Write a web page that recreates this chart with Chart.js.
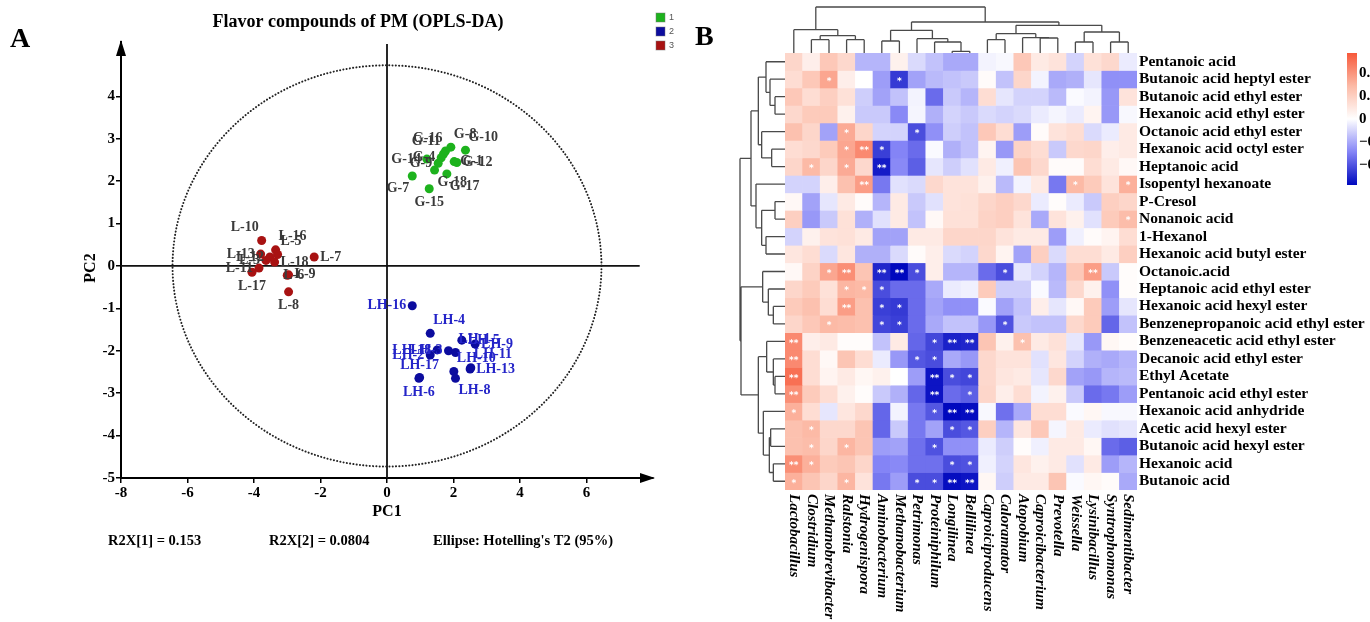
<!DOCTYPE html>
<html>
<head>
<meta charset="utf-8">
<script src="https://cdn.jsdelivr.net/npm/chart.js@4.4.1/dist/chart.umd.min.js"></script>
<style>
  html, body { margin: 0; padding: 0; background: #fff; }
  #wrap { position: relative; width: 1370px; height: 622px; overflow: hidden; }
  #scoreCanvas { position: absolute; left: 0; top: 0; }
  #heatCanvas { position: absolute; left: 690px; top: 0; }
</style>
</head>
<body>
<div id="wrap">
  <canvas id="scoreCanvas" width="700" height="622"></canvas>
  <canvas id="heatCanvas" width="680" height="622"></canvas>
</div>
<script>
// ---------- panel A : OPLS-DA score plot ----------
const gPC1 = [1.92, 2.36, 1.76, 1.70, 1.20, 1.54, 1.63, 2.02, 2.10, 1.80, 1.43, 0.76, 1.27];
const gPC2 = [2.80, 2.73, 2.71, 2.64, 2.52, 2.42, 2.55, 2.46, 2.44, 2.17, 2.26, 2.12, 1.82];
const gNames = ['G-8', 'G-10', 'G-16', 'G-11', 'G-14', 'G-9', 'G-4', 'G-1', 'G-12', 'G-17', 'G-18', 'G-7', 'G-15'];
const gSpots = ['NE', 'NE', 'NW', 'NW', 'W', 'W', 'W', 'E', 'E', 'SE', 'SE', 'SW', 'S'];

const lhPC1 = [0.76, 1.30, 2.25, 2.65, 1.51, 1.85, 1.30, 2.06, 2.50, 2.52, 2.01, 2.06, 0.96, 0.98];
const lhPC2 = [-0.94, -1.59, -1.75, -1.84, -1.98, -2.00, -2.10, -2.04, -2.43, -2.40, -2.49, -2.65, -2.65, -2.63];
const lhNames = ['LH-16', 'LH-4', 'LH-5', 'LH-9', 'LH-18', 'LH-3', 'LH-2', 'LH-1', 'LH-13', 'LH-11', 'LH-10', 'LH-8', 'LH-6', 'LH-17'];
const lhSpots = ['W', 'NE', 'E', 'E', 'W', 'W', 'W', 'NE', 'E', 'NE', 'NE', 'SE', 'S', 'N'];

const lPC1 = [-3.77, -3.35, -3.29, -3.80, -3.64, -3.52, -3.38, -3.85, -4.06, -2.19, -2.96, -3.00, -2.96];
const lPC2 = [0.60, 0.38, 0.27, 0.28, 0.13, 0.21, 0.09, -0.05, -0.15, 0.21, -0.21, -0.22, -0.61];
const lNames = ['L-10', 'L-16', 'L-5', 'L-13', 'L-3', 'L-12', 'L-18', 'L-11', 'L-17', 'L-7', 'L-9', 'L-6', 'L-8'];
const lSpots = ['NW', 'NE', 'NE', 'W', 'W', 'W', 'E', 'W', 'S', 'E', 'E', 'C', 'S'];

const ellipseRadii = [6.45, 4.73];   // Hotelling's T2 (95%) in PC1 / PC2 units
const r2x = ['R2X[1] = 0.153', 'R2X[2] = 0.0804', "Ellipse: Hotelling's T2 (95%)"];

// ---------- panel B : correlation heatmap ----------
const colNames = ['Lactobacillus', 'Clostridium', 'Methanobrevibacter', 'Ralstonia', 'Hydrogenispora',
  'Aminobacterium', 'Methanobacterium', 'Petrimonas', 'Proteiniphilum', 'Longilinea', 'Bellilinea',
  'Caproiciproducens', 'Caloramator', 'Atopobium', 'Caproicibacterium', 'Prevotella', 'Weissella',
  'Lysinibacillus', 'Syntrophomonas', 'Sedimentibacter'];

const rowNames = ['Pentanoic acid', 'Butanoic acid heptyl ester', 'Butanoic acid ethyl ester',
  'Hexanoic acid ethyl ester', 'Octanoic acid ethyl ester', 'Hexanoic acid octyl ester', 'Heptanoic acid',
  'Isopentyl hexanoate', 'P-Cresol', 'Nonanoic acid', '1-Hexanol', 'Hexanoic acid butyl ester',
  'Octanoic.acid', 'Heptanoic acid ethyl ester', 'Hexanoic acid hexyl ester',
  'Benzenepropanoic acid ethyl ester', 'Benzeneacetic acid ethyl ester', 'Decanoic acid ethyl ester',
  'Ethyl Acetate', 'Pentanoic acid ethyl ester', 'Hexanoic acid anhydride', 'Acetic acid hexyl ester',
  'Butanoic acid hexyl ester', 'Hexanoic acid', 'Butanoic acid'];

const corr = [
  [0.3, 0.12, 0.4, 0.28, -0.3, -0.3, 0.1, -0.15, -0.25, -0.35, -0.35, -0.05, -0.03, 0.4, 0.15, 0.2, -0.18, 0.22, 0.28, -0.08],
  [0.25, 0.4, 0.6, 0.12, 0.0, -0.4, -0.8, -0.38, -0.28, -0.25, -0.22, 0.03, -0.25, 0.3, -0.05, -0.35, -0.32, -0.1, -0.45, -0.45],
  [0.4, 0.25, 0.35, 0.22, -0.2, -0.38, -0.25, -0.05, -0.6, -0.22, -0.3, 0.25, -0.1, -0.18, -0.18, -0.28, -0.02, -0.05, -0.42, 0.2],
  [0.28, 0.38, 0.38, 0.1, -0.22, -0.22, -0.48, -0.04, -0.32, -0.18, -0.22, -0.15, -0.18, -0.15, -0.08, -0.04, -0.08, 0.08, -0.42, -0.03],
  [0.45, 0.3, -0.38, 0.58, 0.3, -0.18, -0.18, -0.72, -0.45, -0.2, -0.25, 0.4, 0.25, -0.4, 0.03, 0.2, 0.25, -0.15, -0.08, 0.15],
  [0.25, 0.28, 0.38, 0.6, 0.75, -0.78, -0.5, -0.6, -0.02, -0.32, -0.25, 0.08, -0.42, 0.32, 0.25, -0.22, 0.28, 0.3, 0.12, 0.15],
  [0.3, 0.5, 0.3, 0.58, 0.28, -0.92, -0.48, -0.65, -0.1, -0.2, -0.12, 0.15, -0.06, 0.42, 0.28, 0.03, 0.03, 0.25, 0.15, 0.05],
  [-0.18, -0.18, 0.12, 0.45, 0.65, -0.55, -0.12, -0.15, 0.28, 0.2, 0.2, 0.1, -0.28, -0.05, 0.15, -0.55, 0.5, 0.38, 0.2, 0.55],
  [0.05, -0.38, -0.1, 0.15, 0.03, -0.3, 0.15, -0.22, -0.12, 0.2, 0.22, 0.3, 0.35, 0.28, -0.08, 0.02, -0.08, -0.22, 0.35, 0.3],
  [0.35, -0.42, -0.22, 0.22, -0.32, -0.12, 0.15, -0.25, 0.05, 0.22, 0.22, 0.32, 0.35, 0.2, -0.35, 0.2, 0.1, -0.12, 0.38, 0.48],
  [-0.18, 0.1, 0.2, 0.22, 0.15, -0.38, -0.38, 0.15, 0.15, 0.3, 0.3, 0.3, 0.2, 0.15, 0.15, -0.4, -0.06, 0.03, 0.08, 0.25],
  [0.18, 0.25, -0.15, 0.18, -0.32, -0.32, -0.15, 0.03, 0.12, -0.15, -0.18, 0.28, 0.08, -0.38, 0.35, -0.15, 0.25, 0.25, 0.15, 0.35],
  [0.05, 0.32, 0.6, 0.72, 0.42, -0.88, -1.0, -0.72, 0.12, -0.3, -0.3, -0.6, -0.72, -0.1, -0.18, -0.3, 0.4, 0.65, -0.22, 0.02],
  [0.3, 0.38, 0.22, 0.52, 0.5, -0.72, -0.6, -0.6, -0.35, -0.08, -0.06, 0.38, -0.2, -0.2, -0.02, -0.28, 0.28, 0.1, -0.45, 0.02],
  [0.38, 0.45, 0.25, 0.65, 0.45, -0.78, -0.8, -0.6, -0.38, -0.45, -0.45, -0.02, -0.38, -0.25, 0.12, -0.1, 0.05, 0.38, -0.4, -0.1],
  [0.3, 0.4, 0.5, 0.48, 0.45, -0.75, -0.78, -0.6, -0.35, -0.25, -0.25, -0.42, -0.7, -0.22, -0.25, -0.25, 0.28, 0.38, -0.62, -0.25],
  [0.75, 0.12, 0.15, 0.02, 0.02, -0.25, 0.15, -0.62, -0.75, -0.9, -0.88, 0.42, 0.1, 0.45, 0.15, 0.22, -0.1, -0.42, 0.06, 0.02],
  [0.75, 0.25, 0.05, 0.42, 0.25, -0.08, -0.42, -0.68, -0.72, -0.35, -0.42, 0.28, 0.2, 0.2, -0.12, 0.18, -0.18, -0.32, -0.35, -0.3],
  [0.88, 0.25, 0.08, 0.15, 0.06, 0.1, 0.0, -0.4, -0.95, -0.72, -0.75, 0.28, 0.18, 0.15, -0.1, 0.28, -0.38, -0.42, -0.3, -0.28],
  [0.72, 0.38, 0.25, 0.1, 0.02, -0.22, -0.32, -0.62, -0.95, -0.6, -0.65, 0.3, 0.12, 0.25, -0.05, 0.1, -0.22, -0.6, -0.55, -0.4],
  [0.55, 0.25, -0.1, 0.18, 0.28, -0.62, -0.05, -0.55, -0.68, -1.0, -0.98, -0.03, -0.58, -0.35, 0.25, 0.25, -0.02, 0.06, -0.03, -0.03],
  [0.45, 0.5, 0.28, 0.28, 0.42, -0.62, -0.22, -0.55, -0.38, -0.72, -0.68, 0.35, -0.3, 0.18, 0.4, -0.04, 0.15, -0.08, -0.12, -0.1],
  [0.45, 0.48, 0.3, 0.52, 0.42, -0.4, -0.38, -0.58, -0.7, -0.45, -0.45, -0.08, -0.2, 0.02, -0.06, 0.15, 0.15, 0.06, -0.6, -0.65],
  [0.72, 0.55, 0.38, 0.42, 0.3, -0.5, -0.48, -0.58, -0.58, -0.72, -0.7, -0.06, -0.18, 0.18, 0.1, 0.15, -0.12, 0.15, -0.4, -0.3],
  [0.55, 0.42, 0.3, 0.52, 0.2, -0.55, -0.4, -0.72, -0.72, -0.98, -0.95, 0.06, -0.2, 0.15, 0.15, 0.42, -0.02, 0.06, 0.03, -0.35]
];

// significance per cell: '.' none, '1' = *, '2' = **
const stars = [
  '....................', '..1...1.............', '....................', '....................',
  '...1...1............', '...121..............', '.1.1.2..............', '....2...........1..1',
  '....................', '...................1', '....................', '....................',
  '..12.221....1....2..', '...111..............', '...2.11.............', '..1..11.....1.......',
  '2.......122..1......', '2......11...........', '2.......211.........', '2.......2.1.........',
  '1.......122.........', '.1.......11.........', '.1.1....1...........', '21.......11.........',
  '1..1...1122.........'
];

// dendrograms: [left, right, height], leaves are column / row indexes
const colTree = [[0, [[1, 2, 40], [3, 4, 40], 52], 70],
  [[[5, 6, 36], [7, [8, [9, 10, 5], 33], 43], 68],
   [[[11, 12, 40], [13, [14, 15, 45], 46], 58], [[16, 17, 33], [18, 19, 33], 63], 83], 93], 138];
const rowTree = [[[[0, [1, [2, 3, 30], 45], 57], [4, [5, 6, 40], 70], 80],
  [7, [[8, 9, 30], [10, 11, 57], 70], 87], 102],
  [[12, [13, [14, 15, 35], 50], 67],
   [[16, [17, [18, 19, 30], 35], 55], [20, [[21, 22, 43], [23, 24, 35], 47], 65], 80], 132], 135];

const colorMax = 1;
const colorTicks = [0.7, 0.35, 0, -0.35, -0.7];

const SERIF = '"Liberation Serif", "Times New Roman", serif';

// ================= panel A =================
const groups = [
  { x: gPC1, y: gPC2, names: gNames, spots: gSpots, color: '#1db21d', text: '#3a3a3a' },
  { x: lhPC1, y: lhPC2, names: lhNames, spots: lhSpots, color: '#0c0c9e', text: '#2424c8' },
  { x: lPC1, y: lPC2, names: lNames, spots: lSpots, color: '#a81212', text: '#3a3a3a' }
];

function spotLabel(ctx, px, py, text, spot) {
  const m = {
    N: [0, -12, 'center'], S: [0, 14, 'center'], E: [6, 0, 'left'], W: [-6, 0, 'right'],
    NE: [3, -13, 'left'], NW: [-3, -13, 'right'], SE: [3, 12, 'left'], SW: [-3, 12, 'right'],
    C: [-4, 0, 'left']
  }[spot];
  ctx.textAlign = m[2];
  ctx.fillText(text, px + m[0], py + m[1]);
}

const scoreDecor = {
  id: 'scoreDecor',
  beforeDatasetsDraw(chart) {
    const { ctx, chartArea: a, scales: { x, y } } = chart;
    const cx = x.getPixelForValue(0), cy = y.getPixelForValue(0);
    ctx.save();
    // zero lines
    ctx.strokeStyle = '#111';
    ctx.lineWidth = 1.8;
    ctx.beginPath();
    ctx.moveTo(cx, a.bottom); ctx.lineTo(cx, a.top + 2);
    ctx.moveTo(a.left, cy); ctx.lineTo(x.getPixelForValue(7.6), cy);
    ctx.stroke();
    // Hotelling ellipse
    const rx = x.getPixelForValue(ellipseRadii[0]) - cx;
    const ry = cy - y.getPixelForValue(ellipseRadii[1]);
    ctx.setLineDash([0.1, 3.2]);
    ctx.lineCap = 'round';
    ctx.lineWidth = 2;
    ctx.strokeStyle = '#222';
    ctx.beginPath();
    ctx.ellipse(cx, cy, rx, ry, 0, 0, Math.PI * 2);
    ctx.stroke();
    ctx.restore();
  },
  afterDatasetsDraw(chart) {
    const ctx = chart.ctx;
    ctx.save();
    ctx.font = 'bold 14px ' + SERIF;
    ctx.textBaseline = 'middle';
    groups.forEach((g, d) => {
      const pts = chart.getDatasetMeta(d).data;
      ctx.fillStyle = g.text;
      pts.forEach((p, i) => spotLabel(ctx, p.x, p.y, g.names[i], g.spots[i]));
    });
    ctx.restore();
  },
  afterDraw(chart) {
    const { ctx, chartArea: a } = chart;
    ctx.save();
    ctx.fillStyle = '#000';
    // arrow heads
    ctx.beginPath();
    ctx.moveTo(a.right + 2, a.bottom); ctx.lineTo(a.right - 13, a.bottom - 5); ctx.lineTo(a.right - 13, a.bottom + 5);
    ctx.closePath(); ctx.fill();
    ctx.beginPath();
    ctx.moveTo(a.left, a.top - 2); ctx.lineTo(a.left - 5, a.top + 14); ctx.lineTo(a.left + 5, a.top + 14);
    ctx.closePath(); ctx.fill();
    // texts
    ctx.textBaseline = 'middle';
    ctx.textAlign = 'center';
    ctx.font = 'bold 18px ' + SERIF;
    ctx.fillText('Flavor compounds of PM (OPLS-DA)', 358, 22);
    ctx.font = 'bold 16px ' + SERIF;
    ctx.fillText('PC1', 387, 512);
    ctx.save();
    ctx.translate(91, 268);
    ctx.rotate(-Math.PI / 2);
    ctx.fillText('PC2', 0, 0);
    ctx.restore();
    ctx.textAlign = 'left';
    ctx.font = 'bold 14.5px ' + SERIF;
    [108, 269, 433].forEach((px, i) => ctx.fillText(r2x[i], px, 541));
    ctx.font = 'bold 28px ' + SERIF;
    ctx.fillText('A', 10, 40);
    // legend
    ctx.font = '9px "Liberation Sans", Arial, sans-serif';
    groups.forEach((g, i) => {
      const ty = 13 + i * 14;
      ctx.fillStyle = g.color;
      ctx.fillRect(656, ty, 9, 9);
      ctx.strokeStyle = 'rgba(120,120,120,0.6)';
      ctx.lineWidth = 0.8;
      ctx.strokeRect(656, ty, 9, 9);
      ctx.fillStyle = '#555';
      ctx.fillText(String(i + 1), 669, ty + 5);
    });
    ctx.restore();
  }
};

const tickFont = { family: SERIF, size: 15, weight: 'bold' };

new Chart(document.getElementById('scoreCanvas'), {
  type: 'scatter',
  data: {
    datasets: groups.map(g => ({
      data: g.x.map((v, i) => ({ x: v, y: g.y[i] })),
      backgroundColor: g.color,
      borderColor: g.color,
      pointRadius: 4.5,
      borderWidth: 0
    }))
  },
  options: {
    responsive: false,
    animation: false,
    events: [],
    layout: { padding: { left: 0, right: 47, top: 42, bottom: 0 } },
    plugins: { legend: { display: false }, tooltip: { enabled: false } },
    scales: {
      x: {
        type: 'linear', min: -8, max: 8,
        afterBuildTicks: s => { s.ticks = s.ticks.filter(t => t.value < 8); },
        afterFit: s => { s.height = 144; },
        ticks: { stepSize: 2, color: '#000', font: tickFont, padding: 1 },
        grid: { drawOnChartArea: false, drawTicks: true, tickLength: 5, color: '#000', lineWidth: 1.5 },
        border: { display: true, color: '#000', width: 2 }
      },
      y: {
        type: 'linear', min: -5, max: 5.28,
        afterBuildTicks: s => { s.ticks = s.ticks.filter(t => t.value <= 4); },
        afterFit: s => { s.width = 121; },
        ticks: { stepSize: 1, color: '#000', font: tickFont, padding: 1 },
        grid: { drawOnChartArea: false, drawTicks: true, tickLength: 5, color: '#000', lineWidth: 1.5 },
        border: { display: true, color: '#000', width: 2 }
      }
    }
  },
  plugins: [scoreDecor]
});

// ================= panel B =================
function heatColor(v) {
  const t = Math.max(-1, Math.min(1, v / colorMax));
  const stops = t >= 0
    ? [[255, 255, 255], [252, 186, 166], [247, 88, 58]]
    : [[255, 255, 255], [132, 132, 246], [0, 8, 190]];
  const a = Math.abs(t) * 2;
  const i = Math.min(1, Math.floor(a));
  const f = a - i;
  const c = stops[i].map((c0, k) => Math.round(c0 + (stops[i + 1][k] - c0) * f));
  return 'rgb(' + c.join(',') + ')';
}

function walkTree(node, leafAt, line) {
  if (typeof node === 'number') return { p: leafAt(node), h: 0 };
  const a = walkTree(node[0], leafAt, line);
  const b = walkTree(node[1], leafAt, line);
  const h = node[2];
  line(a.p, a.h, a.p, h);
  line(b.p, b.h, b.p, h);
  line(a.p, h, b.p, h);
  return { p: (a.p + b.p) / 2, h: h };
}

const heatDecor = {
  id: 'heatDecor',
  afterDraw(chart) {
    const { ctx, chartArea: a, scales: { x, y } } = chart;
    const unit = 1 / 3;
    ctx.save();
    // significance marks
    ctx.fillStyle = '#fff';
    ctx.font = 'bold 9px "DejaVu Sans", sans-serif';
    ctx.textAlign = 'center';
    ctx.textBaseline = 'middle';
    stars.forEach((row, r) => {
      for (let c = 0; c < row.length; c++) {
        if (row[c] === '.') continue;
        ctx.fillText(row[c] === '2' ? '**' : '*', x.getPixelForValue(c), y.getPixelForValue(r + 0.5) + 2);
      }
    });
    // column labels, reading downwards
    ctx.fillStyle = '#000';
    ctx.font = 'italic bold 15px ' + SERIF;
    ctx.textAlign = 'left';
    colNames.forEach((name, c) => {
      ctx.save();
      ctx.translate(x.getPixelForValue(c), a.bottom + 4);
      ctx.rotate(Math.PI / 2);
      ctx.fillText(name, 0, 0);
      ctx.restore();
    });
    // dendrograms
    ctx.strokeStyle = '#4a4a4a';
    ctx.lineWidth = 1.3;
    ctx.beginPath();
    walkTree(colTree, c => x.getPixelForValue(c), (p1, h1, p2, h2) => {
      ctx.moveTo(p1, a.top - h1 * unit);
      ctx.lineTo(p2, a.top - h2 * unit);
    });
    walkTree(rowTree, r => y.getPixelForValue(r + 0.5), (p1, h1, p2, h2) => {
      ctx.moveTo(a.left - h1 * unit, p1);
      ctx.lineTo(a.left - h2 * unit, p2);
    });
    ctx.stroke();
    // colour bar
    const bx = 657, bt = 53, bb = 185, mid = (bt + bb) / 2;
    const grad = ctx.createLinearGradient(0, bt, 0, bb);
    for (let k = 0; k <= 20; k++) {
      grad.addColorStop(k / 20, heatColor(colorMax * (1 - k / 10)));
    }
    ctx.fillStyle = grad;
    ctx.fillRect(bx, bt, 10, bb - bt);
    ctx.fillStyle = '#000';
    ctx.font = 'bold 15px ' + SERIF;
    ctx.textAlign = 'left';
    colorTicks.forEach(v => {
      const ty = mid - v / colorMax * (bb - bt) / 2;
      ctx.fillText(v < 0 ? '\u2212' + (-v) : String(v), 669, ty);
    });
    ctx.font = 'bold 28px ' + SERIF;
    ctx.fillText('B', 5, 38);
    ctx.restore();
  }
};

new Chart(document.getElementById('heatCanvas'), {
  type: 'bar',
  data: {
    labels: colNames,
    datasets: rowNames.map((name, r) => ({
      label: name,
      data: colNames.map(() => 1),
      backgroundColor: c => heatColor(corr[r][c.dataIndex]),
      borderWidth: 0,
      barPercentage: 1,
      categoryPercentage: 1
    }))
  },
  options: {
    responsive: false,
    animation: false,
    events: [],
    layout: { padding: { left: 95, top: 53, bottom: 132, right: 0 } },
    plugins: { legend: { display: false }, tooltip: { enabled: false } },
    scales: {
      x: { stacked: true, display: false },
      y: { stacked: true, display: false, reverse: true, min: 0, max: rowNames.length },
      rows: {
        type: 'category', labels: rowNames, position: 'right', offset: true,
        grid: { display: false, drawTicks: false, tickLength: 0 }, border: { display: false },
        ticks: { color: '#000', font: { family: SERIF, size: 15.5, weight: 'bold' }, padding: 2, autoSkip: false },
        afterFit: s => { s.width = 233; }
      }
    }
  },
  plugins: [heatDecor]
});
</script>
</body>
</html>
